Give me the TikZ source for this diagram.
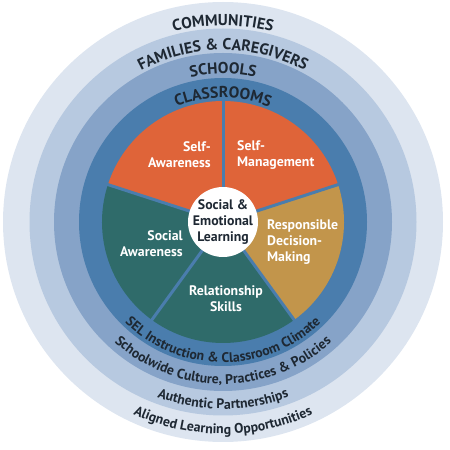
\documentclass[tikz,border=0pt]{standalone}
\usepackage{fontspec}
\setmainfont{PT Sans}
\usetikzlibrary{decorations.text}
\definecolor{ringA}{HTML}{DDE5F0}
\definecolor{ringB}{HTML}{B7C9E0}
\definecolor{ringC}{HTML}{86A3C8}
\definecolor{ringD}{HTML}{4A7DAD}
\definecolor{sorange}{HTML}{DF6439}
\definecolor{steal}{HTML}{2F6B6A}
\definecolor{sgold}{HTML}{C2954B}
\definecolor{ink}{HTML}{1E2833}
\newcommand{\capsfont}{\fontsize{15.8}{15.8}\selectfont\bfseries\color{ink}}
\newcommand{\lowfont}{\fontsize{13.8}{13.8}\selectfont\bfseries\color{ink}}
\begin{document}
\begin{tikzpicture}[x=1pt,y=1pt,
  wedgelabel/.style={text=white,font=\fontsize{13.8}{16}\selectfont\bfseries,inner sep=0pt},
  divider/.style={draw=ringD,line width=3pt},
  toparc/.style={decorate,decoration={text along path,text align=center,text={#1}}},
  botarc/.style={decorate,decoration={text along path,text align=center,text={#1}}}]
\useasboundingbox (0,0) rectangle (450,450);
\coordinate (C) at (223,228);
% rings
\fill[ringA] (C) circle[radius=220];
\fill[ringB] (C) circle[radius=193.5];
\fill[ringC] (C) circle[radius=169];
\fill[ringD] (C) circle[radius=144];
% wedges
\fill[sorange] (C) -- ([shift={(90:121)}]C) arc[start angle=90,end angle=162,radius=121] -- cycle;
\fill[steal] (C) -- ([shift={(162:121)}]C) arc[start angle=162,end angle=234,radius=121] -- cycle;
\fill[steal] (C) -- ([shift={(234:121)}]C) arc[start angle=234,end angle=306,radius=121] -- cycle;
\fill[sgold] (C) -- ([shift={(306:121)}]C) arc[start angle=306,end angle=378,radius=121] -- cycle;
\fill[sorange] (C) -- ([shift={(18:121)}]C) arc[start angle=18,end angle=90,radius=121] -- cycle;
\foreach \a in {90,162,234,306,18}
  \draw[divider] (C) -- ([shift={(\a:122)}]C);
% centre
\fill[white] (C) circle[radius=35];
\node[font=\fontsize{13.8}{16}\selectfont\bfseries,text=ink,align=center,inner sep=0pt] (sel) at (C) {Social \&\\Emotional\\Learning};
% wedge labels
\node[wedgelabel,anchor=east,align=right] (sa) at (211,295) {Self-\\Awareness};
\node[wedgelabel,anchor=west,align=left] (sm) at (237,295) {Self-\\Management};
\node[wedgelabel,anchor=east,align=right] (soa) at (183,206) {Social\\Awareness};
\node[wedgelabel,anchor=west,align=left] (rdm) at (267,207.5) {Responsible\\Decision-\\Making};
\node[wedgelabel,align=center] (rs) at (226,151) {Relationship\\Skills};
% top arc labels
\path[toparc={|\capsfont|COMMUNITIES}] ([shift={(170:196.5)}]C) arc[start angle=170,end angle=10,radius=196.5];
\path[toparc={|\capsfont|FAMILIES {\&} CAREGIVERS}] ([shift={(170:172)}]C) arc[start angle=170,end angle=10,radius=172];
\path[toparc={|\capsfont|SCHOOLS}] ([shift={(170:148)}]C) arc[start angle=170,end angle=10,radius=148];
\path[toparc={|\capsfont|CLASSROOMS}] ([shift={(170:124)}]C) arc[start angle=170,end angle=10,radius=124];
% bottom arc labels
\path[botarc={|\lowfont|SEL Instruction {\&} Classroom Climate}] ([shift={(195:140.5)}]C) arc[start angle=195,end angle=345,radius=140.5];
\path[botarc={|\lowfont|Schoolwide Culture, Practices {\&} Policies}] ([shift={(195:162)}]C) arc[start angle=195,end angle=345,radius=162];
\path[botarc={|\lowfont|Authentic Partnerships}] ([shift={(200:187)}]C) arc[start angle=200,end angle=340,radius=187];
\path[botarc={|\lowfont|Aligned Learning Opportunities}] ([shift={(200:212)}]C) arc[start angle=200,end angle=340,radius=212];
\end{tikzpicture}
\end{document}
